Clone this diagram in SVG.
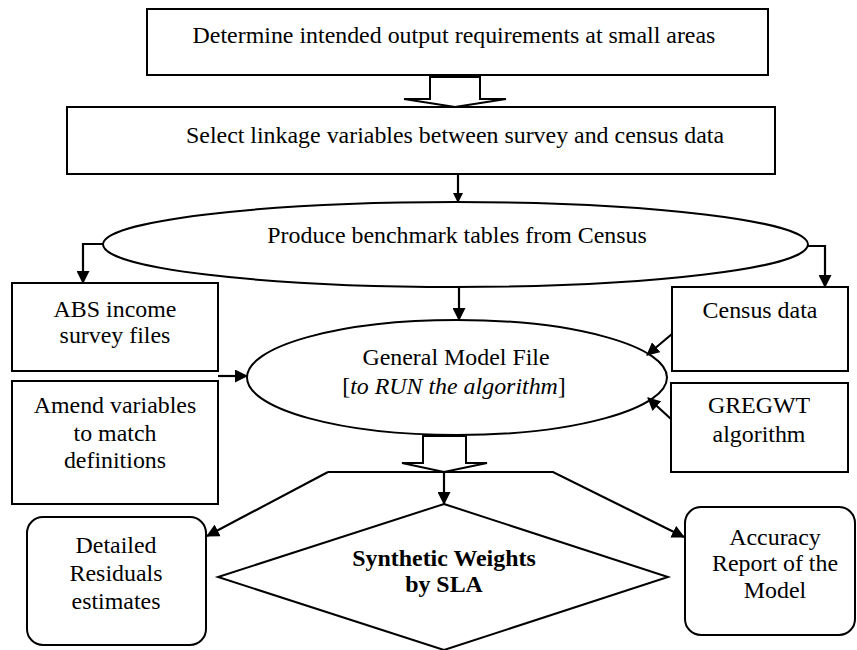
<svg xmlns="http://www.w3.org/2000/svg" width="857" height="650" viewBox="0 0 857 650">
<defs>
<style>
.s{fill:#fff;stroke:#000;stroke-width:2}
.c{fill:none;stroke:#000;stroke-width:2.2}
text{font-family:'Liberation Serif','Times New Roman','DejaVu Serif',serif;font-size:23.9px;fill:#000;text-anchor:middle}
.b{font-weight:bold}
.i{font-style:italic}
</style>
<marker id="ah" markerWidth="10" markerHeight="10" refX="9" refY="5" orient="auto" markerUnits="userSpaceOnUse" viewBox="0 0 10 10">
<path d="M0,0 L10,5 L0,10 Z" fill="#000"/>
</marker>
<marker id="ah2" markerWidth="13" markerHeight="13" refX="12" refY="6.5" orient="auto" markerUnits="userSpaceOnUse" viewBox="0 0 13 13">
<path d="M0,0 L13,6.5 L0,13 Z" fill="#000"/>
</marker>
</defs>
<g font-family="'Liberation Serif', 'Times New Roman', serif" font-size="23.9" text-anchor="middle">

<g id="n-output">
<rect class="s" x="147" y="9" width="621" height="66" stroke-width="2.5"/>
<text x="454" y="43">Determine intended output requirements at small areas</text>
</g>

<g id="n-linkage">
<rect class="s" x="67" y="107" width="708" height="67"/>
<text x="455" y="143">Select linkage variables between survey and census data</text>
</g>

<g id="n-benchmark">
<ellipse class="s" cx="455.5" cy="244.5" rx="352.5" ry="42.5"/>
<text x="457" y="243">Produce benchmark tables from Census</text>
</g>

<g id="n-abs">
<rect class="s" x="12" y="283" width="206" height="88"/>
<text x="115" y="317">ABS income</text>
<text x="115" y="343">survey files</text>
</g>

<g id="n-amend">
<rect class="s" x="12" y="381" width="206" height="123"/>
<text x="115" y="413">Amend variables</text>
<text x="115" y="441">to match</text>
<text x="115" y="468">definitions</text>
</g>

<g id="n-census">
<rect class="s" x="672" y="287" width="176" height="84"/>
<text x="760" y="318">Census data</text>
</g>

<g id="n-gregwt">
<rect class="s" x="671" y="383" width="177" height="89"/>
<text x="759" y="413">GREGWT</text>
<text x="759" y="442">algorithm</text>
</g>

<g id="n-model">
<ellipse class="s" cx="457" cy="377.5" rx="210" ry="57.5"/>
<text x="456" y="365">General Model File</text>
<text x="454" y="394">[<tspan class="i" font-style="italic">to RUN the algorithm</tspan>]</text>
</g>

<g id="n-detailed">
<rect class="s" x="27" y="517" width="179" height="128" rx="16" ry="16"/>
<text x="116" y="553">Detailed</text>
<text x="116" y="581">Residuals</text>
<text x="116" y="609">estimates</text>
</g>

<g id="n-accuracy">
<rect class="s" x="685" y="507" width="170" height="128" rx="16" ry="16"/>
<text x="775" y="545">Accuracy</text>
<text x="775" y="571">Report of the</text>
<text x="775" y="598">Model</text>
</g>

<g id="n-weights">
<polygon class="s" points="444,504 668,577 444,650 218,577"/>
<text class="b" font-weight="bold" x="444" y="566">Synthetic Weights</text>
<text class="b" font-weight="bold" x="444" y="592">by SLA</text>
</g>

</g>
<g id="connectors">
<path class="s" d="M430,77 L480,77 L480,99 L506,99 L455,107 L404,99 L430,99 Z"/>
<path class="c" d="M458,174 L458,202" marker-end="url(#ah)"/>
<path class="c" d="M103,244 L83,244 L83,283" marker-end="url(#ah2)"/>
<path class="c" d="M808,246 L825,246 L825,287" marker-end="url(#ah2)"/>
<path class="c" d="M459,287 L459,320" marker-end="url(#ah2)"/>
<path class="c" d="M218,376 L247,376" marker-end="url(#ah2)"/>
<path class="c" d="M672,334 L647,355" marker-end="url(#ah2)"/>
<path class="c" d="M671,419 L648,398" marker-end="url(#ah2)"/>
<path class="s" d="M423,436 L466,436 L466,463 L487,463 L444,472 L402,463 L423,463 Z"/>
<path class="c" d="M328,472 L207,536" marker-end="url(#ah2)"/>
<path class="c" d="M328,472 L553,472 L684,537" marker-end="url(#ah2)"/>
<path class="c" d="M444,472 L444,504" marker-end="url(#ah2)"/>
</g>
</svg>
